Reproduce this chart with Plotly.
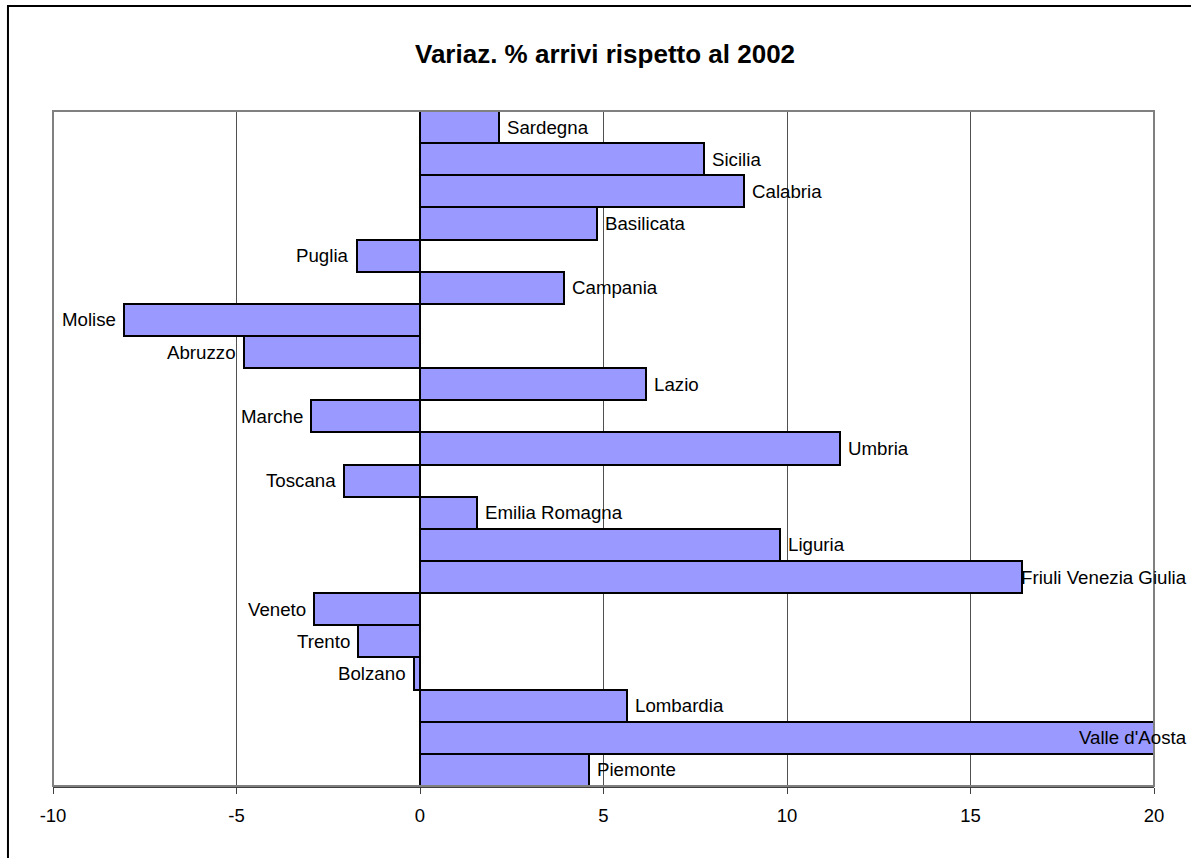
import plotly.graph_objects as go

regions = ["Piemonte", "Valle d'Aosta", "Lombardia", "Bolzano", "Trento", "Veneto",
           "Friuli Venezia Giulia", "Liguria", "Emilia Romagna", "Toscana", "Umbria",
           "Marche", "Lazio", "Abruzzo", "Molise", "Campania", "Puglia", "Basilicata",
           "Calabria", "Sicilia", "Sardegna"]
values = [4.60, 20.08, 5.64, -0.16, -1.69, -2.89,
          16.41, 9.80, 1.56, -2.07, 11.45,
          -2.98, 6.15, -4.80, -8.06, 3.93, -1.73, 4.82,
          8.82, 7.74, 2.15]
pinned_right = ["Friuli Venezia Giulia", "Valle d'Aosta"]
x_ticks = [-10, -5, 0, 5, 10, 15, 20]
title = "Variaz. % arrivi rispetto al 2002"

FONT = "Arial, Liberation Sans, sans-serif"

fig = go.Figure()
fig.add_trace(go.Bar(
    y=regions, x=values, orientation="h",
    marker=dict(color="#9999FF", line=dict(color="black", width=2)),
    cliponaxis=False, hoverinfo="x+y",
))

annotations = []
for r, v in zip(regions, values):
    if r in pinned_right:
        annotations.append(dict(x=1, xref="paper", y=r, yref="y", text=r,
                                showarrow=False, xanchor="right", xshift=35,
                                font=dict(family=FONT, size=18.7, color="black")))
    elif v >= 0:
        annotations.append(dict(x=v, y=r, text=r, showarrow=False, xanchor="left",
                                xshift=6, font=dict(family=FONT, size=18.7, color="black")))
    else:
        annotations.append(dict(x=v, y=r, text=r, showarrow=False, xanchor="right",
                                xshift=-6, font=dict(family=FONT, size=18.7, color="black")))

shapes = [
    # plot area border
    dict(type="rect", xref="paper", yref="paper", x0=0, x1=1, y0=0, y1=1,
         line=dict(color="#808080", width=2), layer="above"),
    # outer chart frame
    dict(type="rect", xref="paper", yref="paper", x0=-0.0409, x1=1.06, y0=-0.2, y1=1.1556,
         line=dict(color="black", width=2)),
]

fig.update_layout(
    width=1191, height=858,
    margin=dict(l=53, r=37, t=111, b=72),
    paper_bgcolor="white", plot_bgcolor="white",
    bargap=0,
    showlegend=False,
    title=dict(text="<b>" + title + "</b>", x=0.508, xanchor="center", y=0.937, yanchor="middle",
               font=dict(family=FONT, size=26, color="black")),
    xaxis=dict(range=[-10, 20], tickvals=x_ticks, ticktext=[str(t) for t in x_ticks],
               showgrid=True, gridcolor="#505050", gridwidth=1,
               zeroline=True, zerolinecolor="#505050", zerolinewidth=1,
               showline=True, linecolor="#404040", linewidth=2,
               ticks="outside", ticklen=6, tickcolor="#404040", tickwidth=1,
               tickfont=dict(family=FONT, size=18.5, color="black"),
               ticklabelstandoff=6),
    yaxis=dict(range=[-0.5, 20.5], showticklabels=False, showgrid=False, zeroline=False,
               ticks="", type="category", categoryorder="array", categoryarray=regions),
    annotations=annotations,
    shapes=shapes,
)

fig.write_html("out.html", config={"displayModeBar": False},
               post_script="document.body.style.margin='0';document.body.style.overflow='hidden';")
